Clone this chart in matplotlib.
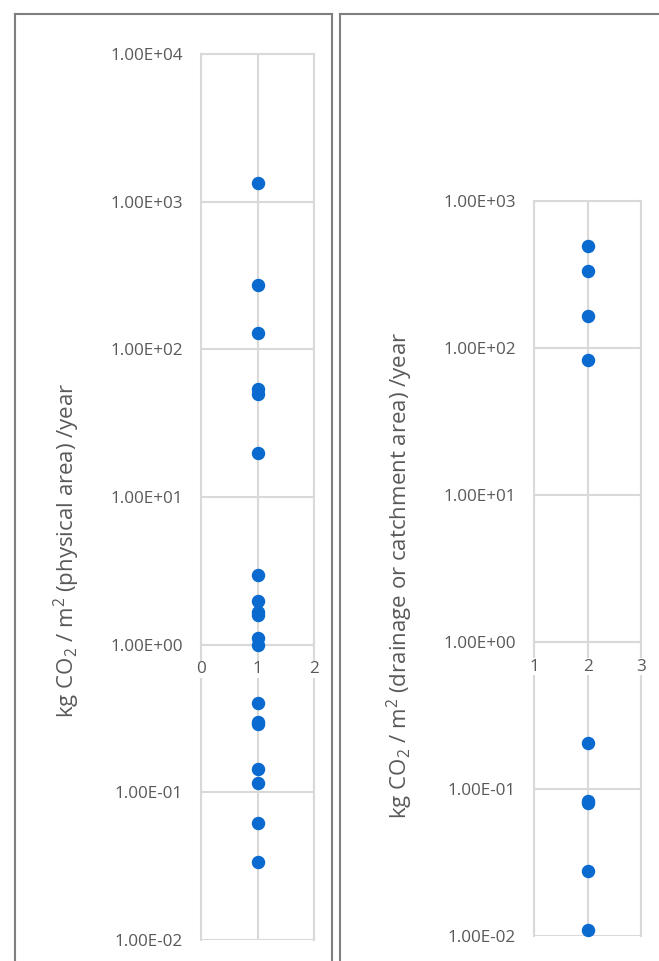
import matplotlib
matplotlib.use("Agg")
import matplotlib.pyplot as plt
from matplotlib.lines import Line2D
from matplotlib.ticker import FixedLocator, FuncFormatter, NullLocator

# data
phys_x = [1] * 19
phys_vals = [1330, 274, 129, 54, 50, 20, 2.98, 1.99, 1.67, 1.6, 1.11, 1.0,
             0.405, 0.30, 0.29, 0.145, 0.116, 0.0624, 0.034]
drain_x = [2] * 9
drain_vals = [493, 333, 165, 83, 0.206, 0.083, 0.080, 0.0276, 0.011]

phys_label = r'kg CO$_2$ / m$^2$ (physical area) /year'
drain_label = r'kg CO$_2$ / m$^2$ (drainage or catchment area) /year'

plt.rcParams['font.family'] = ['Open Sans', 'DejaVu Sans']
plt.rcParams['mathtext.fontset'] = 'custom'
plt.rcParams['mathtext.rm'] = 'Open Sans'
plt.rcParams['mathtext.it'] = 'Open Sans'

W, H = 659, 961
fig = plt.figure(figsize=(W / 100, H / 100), dpi=100)
fig.patch.set_facecolor('white')

grid_c = '#d9d9d9'
text_c = '#595959'
dot_c = '#0A6AD0'


def fx(px):
    return px / W


def fy(py):
    return 1 - py / H


def style_axes(ax, xlim, xticks, ylim):
    ax.set_yscale('log')
    ax.set_xlim(*xlim)
    ax.set_ylim(*ylim)
    ax.xaxis.set_major_locator(FixedLocator(xticks))
    ax.yaxis.set_minor_locator(NullLocator())
    ax.yaxis.set_major_formatter(FuncFormatter(lambda v, p: f"{v:.2E}"))
    ax.grid(True, color=grid_c, lw=1.5)
    for s in ax.spines.values():
        s.set_color(grid_c)
        s.set_linewidth(1.5)
        s.set_zorder(1)
    ax.spines['bottom'].set_position(('data', 1))
    ax.set_axisbelow(False)
    ax.tick_params(axis='y', length=0, pad=13, labelsize=12.3, labelcolor=text_c)
    ax.tick_params(axis='x', length=0, pad=12, labelsize=12.3, labelcolor=text_c)
    for lbl in ax.get_xticklabels():
        lbl.set_bbox(dict(facecolor='white', edgecolor='none', pad=0.5))


# left panel: physical area
ax1 = fig.add_axes([fx(201), fy(940), fx(314 - 201), (940 - 54) / H])
ax1.scatter(phys_x, phys_vals, s=75, color=dot_c, zorder=3, clip_on=False)
style_axes(ax1, (0, 2), [0, 1, 2], (1e-2, 1e4))
fig.text(fx(67), fy(550), phys_label, rotation=90, ha='center', va='center',
         fontsize=16, color=text_c)

# right panel: drainage / catchment area
ax2 = fig.add_axes([fx(534), fy(936), fx(641 - 534), (936 - 201) / H])
ax2.scatter(drain_x, drain_vals, s=75, color=dot_c, zorder=3, clip_on=False)
style_axes(ax2, (1, 3), [1, 2, 3], (1e-2, 1e3))
fig.text(fx(400), fy(575), drain_label, rotation=90, ha='center', va='center',
         fontsize=16, color=text_c)

# panel frames
frame_c = '#7f7f7f'
for xs, ys in [([15, 15], [961, 14]), ([15, 332], [14, 14]), ([332, 332], [14, 961]),
               ([340, 340], [961, 14]), ([340, 659], [14, 14])]:
    fig.add_artist(Line2D([fx(x) for x in xs], [fy(y) for y in ys],
                          color=frame_c, lw=1.5))

fig.savefig('out.png', dpi=100)
